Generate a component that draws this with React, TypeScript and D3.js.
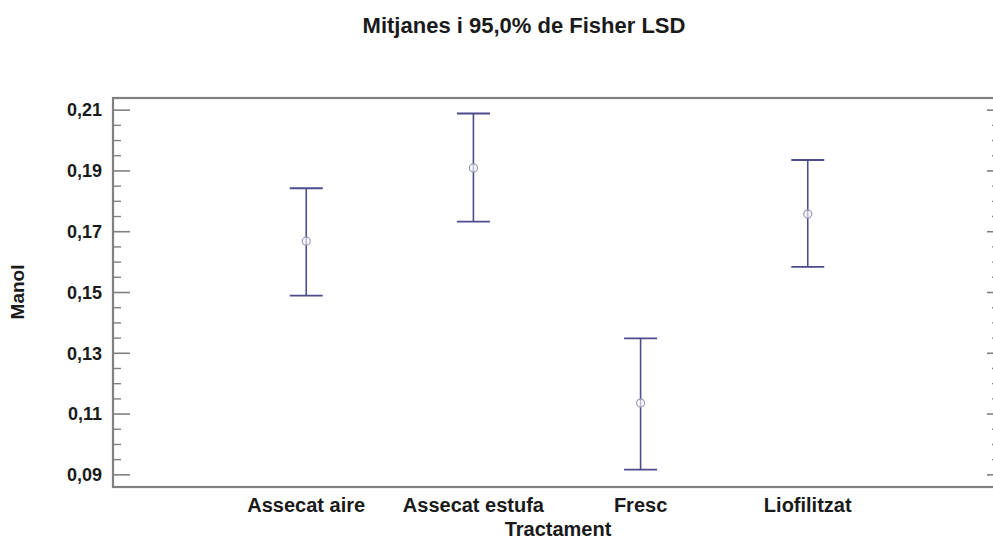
import { useMemo } from 'react';
import * as d3 from 'd3';

// Fisher LSD 95% intervals per treatment
const categories = ['Assecat aire', 'Assecat estufa', 'Fresc', 'Liofilitzat'];
const means = [0.1669, 0.191, 0.1136, 0.1758];
const lower = [0.149, 0.1733, 0.0917, 0.1584];
const upper = [0.1843, 0.2089, 0.1349, 0.1936];

const majorTicks = [0.09, 0.11, 0.13, 0.15, 0.17, 0.19, 0.21];
const minorTicks = [
  0.095, 0.1, 0.105, 0.115, 0.12, 0.125, 0.135, 0.14, 0.145, 0.155, 0.16, 0.165,
  0.175, 0.18, 0.185, 0.195, 0.2, 0.205,
];

const title = 'Mitjanes i 95,0% de Fisher LSD';
const xTitle = 'Tractament';
const yTitle = 'Manol';

const width = 993;
const height = 542;
const frame = { left: 113, right: 1000, top: 98, bottom: 487 };

const locale = d3.formatLocale({ decimal: ',', thousands: '.', grouping: [3], currency: ['', '€'] });
const fmt = locale.format('.2f');

const FONT = '"Liberation Sans", Arial, sans-serif';
const BAR = '#4c4c8c';
const AXIS = '#808080';

const App = () => {
  const xScale = useMemo(() => {
    return d3.scalePoint<string>()
      .domain(categories)
      .range([frame.left + 1, frame.right])
      .padding(1.15);
  }, []);

  const yScale = useMemo(() => {
    return d3.scaleLinear()
      .domain([0.086, 0.214])
      .range([frame.bottom, frame.top]);
  }, []);

  const capHalf = 16.5;

  return (
    <svg
      width={width}
      height={height}
      style={{ position: 'absolute', left: 0, top: 0, background: '#fff' }}
      fontFamily={FONT}
      fontWeight="bold"
    >
      <text x={524} y={33} textAnchor="middle" fontSize={22} fill="#1a1a1a">{title}</text>

      {/* frame */}
      <rect
        x={frame.left}
        y={frame.top}
        width={frame.right - frame.left}
        height={frame.bottom - frame.top}
        fill="none"
        stroke={AXIS}
        strokeWidth={2.2}
      />

      {/* axis ticks, both sides */}
      {majorTicks.map(t => (
        <g key={`ml${t}`}>
          <line x1={frame.left} x2={frame.left + 17} y1={yScale(t)} y2={yScale(t)} stroke={AXIS} strokeWidth={1.6} />
          <line x1={frame.right} x2={frame.right - 13} y1={yScale(t)} y2={yScale(t)} stroke={AXIS} strokeWidth={1.6} />
          <text x={102} y={yScale(t)} dy="0.35em" textAnchor="end" fontSize={18} fill="#1a1a1a">{fmt(t)}</text>
        </g>
      ))}
      {minorTicks.map(t => (
        <g key={`mn${t}`}>
          <line x1={frame.left} x2={frame.left + 8} y1={yScale(t)} y2={yScale(t)} stroke={AXIS} strokeWidth={1.4} />
          <line x1={frame.right} x2={frame.right - 8} y1={yScale(t)} y2={yScale(t)} stroke={AXIS} strokeWidth={1.4} />
        </g>
      ))}

      {/* error bars */}
      {categories.map((c, i) => {
        const x = xScale(c) ?? 0;
        return (
          <g key={c}>
            <line x1={x} x2={x} y1={yScale(upper[i])} y2={yScale(lower[i])} stroke={BAR} strokeWidth={1.6} />
            <line x1={x - capHalf} x2={x + capHalf} y1={yScale(upper[i])} y2={yScale(upper[i])} stroke={BAR} strokeWidth={1.8} />
            <line x1={x - capHalf} x2={x + capHalf} y1={yScale(lower[i])} y2={yScale(lower[i])} stroke={BAR} strokeWidth={1.8} />
            <circle cx={x} cy={yScale(means[i])} r={4} fill="#fff" fillOpacity={0.6} stroke="#9a9ab8" strokeWidth={1.2} />
          </g>
        );
      })}

      {/* x labels */}
      {categories.map(c => (
        <text key={`xl${c}`} x={xScale(c)} y={512} textAnchor="middle" fontSize={20} fill="#1a1a1a">{c}</text>
      ))}
      <text x={558} y={536} textAnchor="middle" fontSize={20} fill="#1a1a1a">{xTitle}</text>
      <text
        transform={`translate(24, 292) rotate(-90)`}
        textAnchor="middle"
        fontSize={19}
        fill="#1a1a1a"
      >
        {yTitle}
      </text>
    </svg>
  );
};

export default App;
